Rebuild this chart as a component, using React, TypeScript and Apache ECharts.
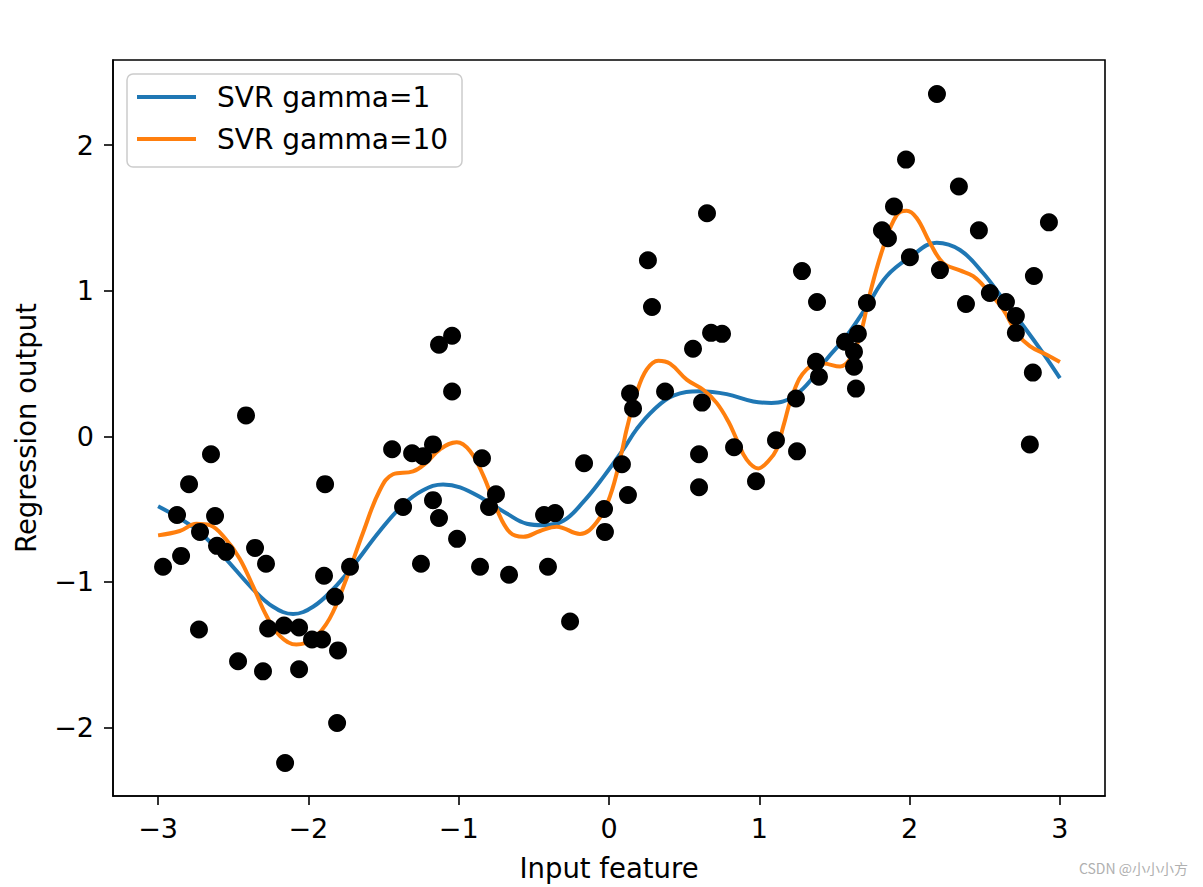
import React, { useEffect, useRef } from "react";
import * as echarts from "echarts";

const xTicks = [-3, -2, -1, 0, 1, 2, 3];
const yTicks = [-2, -1, 0, 1, 2];

const seriesNames = ["SVR gamma=1", "SVR gamma=10"];

const dataX = [
  -2.967, -2.874, -2.847, -2.794, -2.721, -2.728, -2.648, -2.621, -2.608, -2.548,
  -2.468, -2.415, -2.355, -2.302, -2.282, -2.268, -2.162, -2.155, -2.062, -2.062,
  -1.976, -1.909, -1.896, -1.889, -1.823, -1.809, -1.803, -1.723, -1.443, -1.370,
  -1.310, -1.251, -1.237, -1.171, -1.171, -1.131, -1.131, -1.044, -1.044, -1.011,
  -0.845, -0.752, -0.798, -0.858, -0.665, -0.166, -0.432, -0.359, -0.406, -0.259,
  0.086, -0.033, 0.126, -0.027, 0.599, 0.599, 0.832, 0.978, 1.111, 0.652,
  0.259, 0.286, 0.559, 0.679, 0.752, 0.140, 0.160, 0.373, 0.619, 2.182,
  1.976, 2.328, 1.896, 1.816, 1.856, 2.461, 2.927, 2.002, 2.202, 1.284,
  1.384, 1.716, 2.375, 2.827, 2.534, 2.641, 2.707, 2.707, 2.820, 1.656,
  1.570, 1.630, 1.630, 1.643, 1.377, 1.397, 1.244, 1.251, 2.800,
];
const dataY = [
  -0.896, -0.540, -0.821, -0.328, -0.656, -1.327, -0.123, -0.547, -0.752, -0.793,
  -1.545, 0.144, -0.766, -1.614, -0.875, -1.320, -1.299, -2.243, -1.313, -1.600,
  -1.395, -1.395, -0.957, -0.328, -1.101, -1.969, -1.470, -0.896, -0.089, -0.485,
  -0.116, -0.875, -0.137, -0.055, -0.438, -0.561, 0.629, 0.691, 0.308, -0.704,
  -0.150, -0.397, -0.485, -0.896, -0.950, -0.185, -0.540, -0.527, -0.896, -1.272,
  -0.191, -0.499, -0.403, -0.656, -0.123, -0.349, -0.075, -0.308, -0.027, 1.532,
  1.210, 0.889, 0.602, 0.711, 0.704, 0.294, 0.191, 0.308, 0.232, 2.352,
  1.901, 1.716, 1.579, 1.415, 1.361, 1.415, 1.470, 1.231, 1.142, 1.135,
  0.923, 0.916, 0.909, 1.101, 0.985, 0.923, 0.827, 0.711, 0.438, 0.704,
  0.650, 0.581, 0.479, 0.328, 0.513, 0.410, 0.260, -0.103, -0.055,
];

const gamma1X = [
  -3.0, -2.745, -2.568, -2.368, -2.235, -2.102, -1.969, -1.836, -1.703, -1.525,
  -1.37, -1.237, -1.104, -0.991, -0.836, -0.68, -0.547, -0.437, -0.304, -0.171,
  -0.038, 0.095, 0.184, 0.295, 0.428, 0.605, 0.783, 0.96, 1.08, 1.16,
  1.293, 1.448, 1.581, 1.714, 1.847, 2.002, 2.18, 2.335, 2.49, 2.623,
  2.756, 2.889, 3.0,
];
const gamma1Y = [
  -0.48, -0.64, -0.82, -1.05, -1.17, -1.22, -1.17, -1.05, -0.89, -0.65,
  -0.47, -0.37, -0.33, -0.35, -0.43, -0.53, -0.6, -0.61, -0.58, -0.45,
  -0.28, -0.09, 0.05, 0.18, 0.28, 0.31, 0.29, 0.24, 0.23, 0.24,
  0.33, 0.53, 0.69, 0.89, 1.1, 1.23, 1.33, 1.28, 1.12, 0.94,
  0.76, 0.57, 0.4,
];

const gamma10X = [
  -3.0, -2.856, -2.745, -2.656, -2.546, -2.457, -2.368, -2.28, -2.19, -2.08,
  -1.969, -1.858, -1.748, -1.636, -1.525, -1.437, -1.304, -1.215, -1.126, -1.013,
  -0.925, -0.836, -0.747, -0.659, -0.57, -0.459, -0.348, -0.193, -0.082, 0.007,
  0.084, 0.118, 0.184, 0.251, 0.328, 0.406, 0.517, 0.627, 0.716, 0.795,
  0.849, 0.916, 0.993, 1.06, 1.115, 1.16, 1.226, 1.315, 1.426, 1.537,
  1.603, 1.67, 1.736, 1.825, 1.914, 1.98, 2.047, 2.135, 2.224, 2.335,
  2.423, 2.512, 2.623, 2.712, 2.8, 2.912, 3.0,
];
const gamma10Y = [
  -0.68, -0.65, -0.6, -0.61, -0.71, -0.84, -1.03, -1.23, -1.37, -1.43,
  -1.39, -1.25, -0.98, -0.66, -0.37, -0.26, -0.24, -0.18, -0.09, -0.04,
  -0.1, -0.27, -0.5, -0.66, -0.69, -0.65, -0.62, -0.67, -0.59, -0.41,
  -0.11, 0.05, 0.3, 0.46, 0.52, 0.5, 0.39, 0.32, 0.23, 0.1,
  -0.02, -0.16, -0.22, -0.17, -0.09, 0.07, 0.3, 0.46, 0.5, 0.48,
  0.53, 0.69, 0.98, 1.3, 1.52, 1.55, 1.5, 1.33, 1.19, 1.14,
  1.1, 1.01, 0.87, 0.71, 0.62, 0.56, 0.51,
];

const FONT = "'DejaVu Sans', sans-serif";
const minusFmt = (v: number) => String(v).replace("-", "\u2212");

export default function App() {
  const ref = useRef<HTMLDivElement>(null);
  useEffect(() => {
    document.body.style.margin = "0";
    const chart = echarts.init(ref.current!, null, { renderer: "svg" });
    const pairs = (xs: number[], ys: number[]) => xs.map((x, i) => [x, ys[i]]);
    chart.setOption({
      animation: false,
      backgroundColor: "#ffffff",
      textStyle: { fontFamily: FONT },
      grid: {
        left: 113,
        top: 60,
        right: 98,
        bottom: 89,
        show: true,
        borderColor: "#000",
        borderWidth: 1.6,
        backgroundColor: "transparent",
      },
      legend: {
        orient: "vertical",
        left: 127,
        top: 74,
        padding: [8, 14, 13, 10],
        itemGap: 12,
        itemWidth: 59,
        itemHeight: 4,
        backgroundColor: "rgba(255,255,255,0.8)",
        borderColor: "#cccccc",
        borderWidth: 1.5,
        borderRadius: 6,
        textStyle: {
          fontFamily: FONT,
          fontSize: 28,
          color: "#000",
          lineHeight: 30,
          padding: [0, 0, 0, 16],
        },
        data: seriesNames.map((n) => ({ name: n, icon: "rect" })),
      },
      xAxis: {
        type: "value",
        min: -3.3,
        max: 3.3,
        name: "Input feature",
        nameLocation: "middle",
        nameGap: 58,
        nameTextStyle: { fontFamily: FONT, fontSize: 27.5, color: "#000" },
        splitLine: { show: false },
        axisLine: { show: true, onZero: false, lineStyle: { color: "#000", width: 1.6 } },
        axisTick: {
          show: true,
          length: 9,
          inside: false,
          customValues: xTicks,
          lineStyle: { color: "#000", width: 1.6 },
        },
        axisLabel: {
          customValues: xTicks,
          margin: 19,
          fontFamily: FONT,
          fontSize: 27,
          color: "#000",
          formatter: minusFmt,
        },
      },
      yAxis: {
        type: "value",
        min: -2.47,
        max: 2.585,
        name: "Regression output",
        nameLocation: "middle",
        nameRotate: 90,
        nameGap: 73,
        nameTextStyle: { fontFamily: FONT, fontSize: 27.5, color: "#000" },
        splitLine: { show: false },
        axisLine: { show: true, onZero: false, lineStyle: { color: "#000", width: 1.6 } },
        axisTick: {
          show: true,
          length: 9,
          inside: false,
          customValues: yTicks,
          lineStyle: { color: "#000", width: 1.6 },
        },
        axisLabel: {
          customValues: yTicks,
          margin: 19,
          fontFamily: FONT,
          fontSize: 27,
          color: "#000",
          formatter: minusFmt,
        },
      },
      series: [
        {
          name: seriesNames[0],
          type: "line",
          data: pairs(gamma1X, gamma1Y),
          smooth: 0.4,
          showSymbol: false,
          symbol: "none",
          color: "#1f77b4",
          lineStyle: { color: "#1f77b4", width: 4 },
          z: 3,
        },
        {
          name: seriesNames[1],
          type: "line",
          data: pairs(gamma10X, gamma10Y),
          smooth: 0.4,
          showSymbol: false,
          symbol: "none",
          color: "#ff7f0e",
          lineStyle: { color: "#ff7f0e", width: 4 },
          z: 3,
        },
        {
          name: "data",
          type: "scatter",
          data: pairs(dataX, dataY),
          symbol: "circle",
          symbolSize: 18,
          itemStyle: { color: "#000", opacity: 1 },
          z: 4,
        },
      ],
      graphic: [
        {
          type: "text",
          right: 15,
          top: 861,
          style: {
            text: "CSDN @小小小方",
            fill: "#b0b0b0",
            font: "14px 'Noto Sans CJK SC', sans-serif",
          },
        },
      ],
    });
    return () => chart.dispose();
  }, []);
  return <div ref={ref} style={{ width: 1203, height: 887 }} />;
}
